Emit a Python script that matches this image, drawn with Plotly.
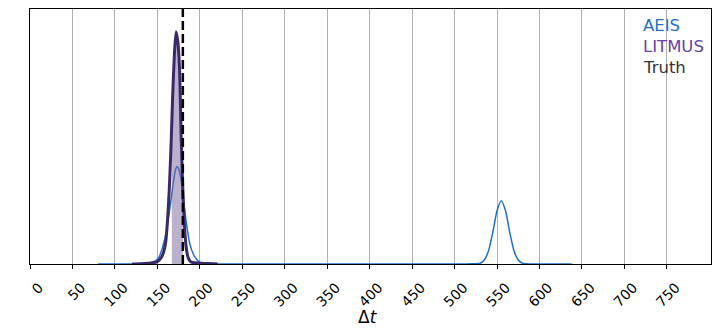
import numpy as np
import plotly.graph_objects as go

# --- data (normalised density) ---
aeis_x = [80, 130, 140, 148, 152, 156, 160, 164, 168, 171, 173, 175, 178, 181, 184, 188, 192, 196, 200, 205, 215,
          300, 400, 500, 520, 530, 535, 540, 545, 550, 555, 560, 565, 570, 575, 580, 590, 638]
aeis_y = [0, 0.001, 0.004, 0.015, 0.03, 0.07, 0.13, 0.22, 0.33, 0.40, 0.42, 0.41, 0.36, 0.27, 0.18, 0.09, 0.045, 0.02, 0.008, 0.002, 0,
          0, 0, 0, 0.001, 0.003, 0.017, 0.057, 0.136, 0.229, 0.272, 0.229, 0.136, 0.057, 0.017, 0.003, 0.0003, 0]

litmus_x = [120, 130, 140, 145, 150, 155, 158, 160, 162, 164, 166, 168, 170, 172, 174, 176, 178, 180, 182, 184, 186, 188, 190, 195, 200, 210, 221]
litmus_y = [0, 0.001, 0.003, 0.005, 0.01, 0.03, 0.06, 0.10, 0.19, 0.32, 0.50, 0.72, 0.90, 1.0, 0.96, 0.85, 0.55, 0.32, 0.16, 0.07, 0.03, 0.015, 0.008, 0.005, 0.003, 0.002, 0]

truth = 180
fill_lo = 167
tick_vals = list(range(0, 800, 50))
tick_text = [str(v) for v in tick_vals]
legend_labels = ["AEIS", "LITMUS", "Truth"]

AEIS_C = "#1f6fcc"
LIT_C = "#3b2a68"
LIT_TXT = "#6a3daa"
TRUTH_TXT = "#333333"

fig = go.Figure()

fig.add_trace(go.Scatter(x=aeis_x, y=aeis_y, mode="lines", line=dict(color=AEIS_C, width=1.5, shape="spline", smoothing=0.6),
                         showlegend=False, hoverinfo="skip"))

# shaded region under LITMUS from fill_lo to truth
fx = [fill_lo] + [x for x in litmus_x if fill_lo < x < truth] + [truth]
fy = [float(np.interp(x, litmus_x, litmus_y)) for x in fx]
fig.add_trace(go.Scatter(x=fx, y=fy, mode="lines", line=dict(width=0, shape="spline", smoothing=0.6),
                         fill="tozeroy", fillcolor="rgba(120,100,155,0.5)", showlegend=False, hoverinfo="skip"))

fig.add_trace(go.Scatter(x=litmus_x, y=litmus_y, mode="lines", line=dict(color=LIT_C, width=3, shape="spline", smoothing=0.6),
                         showlegend=False, hoverinfo="skip"))

fig.add_shape(type="line", x0=truth, x1=truth, y0=0, y1=1, xref="x", yref="paper",
              line=dict(color="black", width=2.5, dash="9px,4px"))

# text legend
for i, (lab, col) in enumerate(zip(legend_labels, [AEIS_C, LIT_TXT, TRUTH_TXT])):
    fig.add_annotation(text=lab, x=(641 - 30) / 681, y=(264 - (25 + 21 * i)) / 255, xref="paper", yref="paper",
                       xanchor="left", yanchor="middle", showarrow=False,
                       font=dict(family="DejaVu Sans", size=16.5, color=col))

fig.add_annotation(text="Δ<i>t</i>", x=(368 - 30) / 681, y=-(317 - 264) / 255, xref="paper", yref="paper",
                   xanchor="center", yanchor="middle", showarrow=False,
                   font=dict(family="DejaVu Sans", size=17, color="black"))

fig.update_layout(
    width=719, height=336,
    margin=dict(l=30, r=8, t=9, b=72),
    paper_bgcolor="white", plot_bgcolor="white",
    font=dict(family="DejaVu Sans", size=14, color="black"),
    xaxis=dict(range=[0, 802], tickmode="array", tickvals=tick_vals, ticktext=tick_text, tickangle=-45,
               ticks="outside", ticklen=4, tickcolor="black", showgrid=True, gridcolor="#b0b0b0", gridwidth=1,
               showline=True, linecolor="black", linewidth=1, mirror=True, zeroline=False,
               tickfont=dict(size=14), ticklabelshift=9, ticklabelstandoff=5),
    yaxis=dict(range=[0, 1.098], showticklabels=False, ticks="", showgrid=False, zeroline=False,
               showline=True, linecolor="black", linewidth=1, mirror=True),
)

fig.write_html("out.html")
